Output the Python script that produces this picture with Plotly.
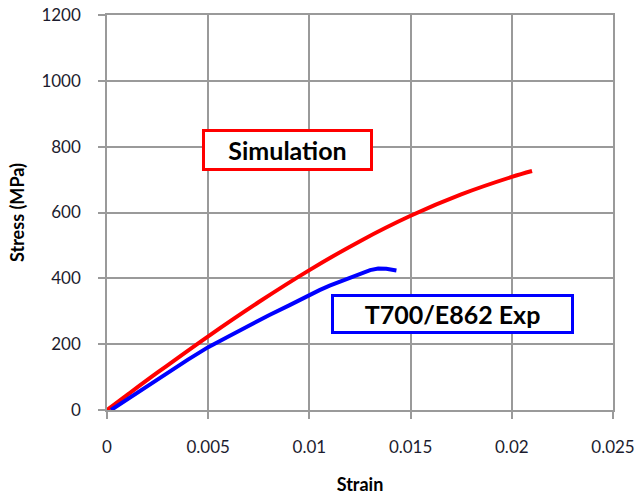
import plotly.graph_objects as go

# Simulated stress-strain response
sim_strain = [0.0, 0.001, 0.0025, 0.005, 0.0075, 0.01, 0.0125, 0.015, 0.0175, 0.02, 0.021]
sim_stress = [0, 46, 114, 224, 328, 425, 513, 590, 655, 708, 726]

# Measured stress-strain response, T700/E862
exp_strain = [0.0002, 0.001, 0.002, 0.003, 0.004, 0.005, 0.006, 0.007, 0.008, 0.009,
              0.0095, 0.01, 0.0105, 0.011, 0.0115, 0.012, 0.0125, 0.013, 0.0134, 0.0138, 0.0143]
exp_stress = [0, 33, 73, 113, 153, 191, 223, 256, 288, 318,
              334, 349, 364, 378, 390, 402, 414, 425, 430, 429, 424]

x_ticks = [0, 0.005, 0.01, 0.015, 0.02, 0.025]
x_tick_text = ["0", "0.005", "0.01", "0.015", "0.02", "0.025"]
y_ticks = [0, 200, 400, 600, 800, 1000, 1200]

FONT = "Lato, 'Open Sans', sans-serif"
GRID = "#9a9a9a"
TEXT = "#1c1c2e"

fig = go.Figure()
fig.add_trace(go.Scatter(x=sim_strain, y=sim_stress, mode="lines",
                         line=dict(color="#ff0000", width=4, shape="spline"),
                         name="Simulation", showlegend=False))
fig.add_trace(go.Scatter(x=exp_strain, y=exp_stress, mode="lines",
                         line=dict(color="#0000ff", width=4),
                         name="T700/E862 Exp", showlegend=False))

fig.add_annotation(x=0.00892, y=790, xref="x", yref="y", text="<b>Simulation</b>",
                   showarrow=False, font=dict(family=FONT, size=25, color="#000"),
                   bgcolor="white", bordercolor="#ff0000", borderwidth=3, borderpad=1,
                   width=163, height=34)
fig.add_annotation(x=0.01705, y=292, xref="x", yref="y", text="<b>T700/E862 Exp</b>",
                   showarrow=False, font=dict(family=FONT, size=25, color="#000"),
                   bgcolor="white", bordercolor="#0000ff", borderwidth=3, borderpad=1,
                   width=235, height=32)

fig.update_xaxes(range=[0, 0.025], tickvals=x_ticks, ticktext=x_tick_text,
                 showgrid=True, gridcolor=GRID, gridwidth=1.5,
                 showline=True, linecolor=GRID, linewidth=1.5, mirror=True,
                 ticks="outside", ticklen=7, tickcolor=GRID, tickwidth=1.5,
                 zeroline=False, automargin=False, ticklabelstandoff=14,
                 tickfont=dict(family=FONT, size=17, color=TEXT),
                 title=dict(text="<b>Strain</b>", font=dict(family=FONT, size=18, color="#000"),
                            standoff=22))
fig.update_yaxes(range=[0, 1200], tickvals=y_ticks,
                 showgrid=True, gridcolor=GRID, gridwidth=1.5,
                 showline=True, linecolor=GRID, linewidth=1.5, mirror=True,
                 ticks="outside", ticklen=7, tickcolor=GRID, tickwidth=1.5,
                 zeroline=False, automargin=False, ticklabelstandoff=14,
                 tickfont=dict(family=FONT, size=17, color=TEXT),
                 title=dict(text="<b>Stress (MPa)</b>", font=dict(family=FONT, size=18, color="#000"),
                            standoff=12))

fig.update_layout(width=641, height=497,
                  margin=dict(l=107, r=28, t=15, b=87),
                  paper_bgcolor="white", plot_bgcolor="white")

fig.write_html("out.html")
